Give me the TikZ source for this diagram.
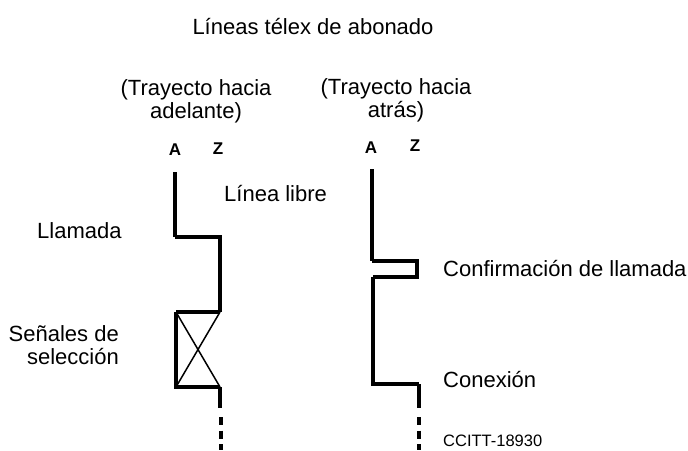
\documentclass[tikz,border=0pt]{standalone}
\usepackage{fontspec}
\setmainfont{Liberation Sans}
\tikzset{
  lab/.style={inner sep=0pt,font=\fontsize{22}{23}\selectfont,align=center},
  labl/.style={lab,anchor=west},
  small/.style={inner sep=0pt,font=\fontsize{17}{19}\selectfont\bfseries},
  tiny/.style={inner sep=0pt,anchor=base west,font=\fontsize{16.5}{18}\selectfont},
  heavy/.style={line width=4pt,line cap=butt,line join=miter},
  mid/.style={line width=3.2pt,line join=miter},
  thin1/.style={line width=1.5pt},
  dash1/.style={line width=3.6pt,dash pattern=on 8pt off 5.5pt}
}
\begin{document}
\begin{tikzpicture}[x=1pt,y=-1pt]
\useasboundingbox (0,0) rectangle (688,450);
\node[lab] (title) at (313,27) {Líneas télex de abonado};
\node[lab] (h1) at (196,101) {(Trayecto hacia\\adelante)};
\node[lab] (h2) at (396,100) {(Trayecto hacia\\atrás)};
\node[small] (a1) at (175,150) {A};
\node[small] (z1) at (218,149) {Z};
\node[small] (a2) at (371,148) {A};
\node[small] (z2) at (415,146) {Z};
\node[labl] (libre) at (224,194) {Línea libre};
\node[labl] (llam) at (37,231) {Llamada};
\node[lab,anchor=east,align=right] (sel) at (119,345) {Señales de\\selección};
\node[labl] (conf) at (443,269) {Confirmación de llamada};
\node[labl] (con) at (443,380) {Conexión};
\node[tiny] (ccitt) at (443,446) {CCITT-18930};
% left
\coordinate (p1) at (175,172);
\coordinate (p2) at (175,237);
\coordinate (p3) at (220,237);
\coordinate (p4) at (220,312);
\coordinate (p5) at (176,312);
\coordinate (p6) at (176,387);
\coordinate (p7) at (220,387);
\coordinate (p8) at (220,408);
\coordinate (p9) at (221,417);
\coordinate (p10) at (221,450);
\draw[heavy] (p1) -- (p2);
\draw[mid] (p2) -- (p3) -- (p4);
\draw[mid] (p4) -- (p5);
\draw[heavy] (p5) -- (p6) -- (p7);
\draw[heavy] (p7) -- (p8);
\draw[thin1] (p5) -- (p7) (p4) -- (p6);
\draw[dash1] (p9) -- (p10);
% right
\coordinate (q1) at (372,169);
\coordinate (q2) at (372,261);
\coordinate (q3) at (417,261);
\coordinate (q4) at (417,277);
\coordinate (q5) at (373,277);
\coordinate (q6) at (373,384);
\coordinate (q7) at (419,384);
\coordinate (q8) at (419,408);
\coordinate (q9) at (419,417);
\coordinate (q10) at (419,450);
\draw[mid] (q1) -- (q2);
\draw[heavy] (q2) -- (q3) -- (q4) -- (q5);
\draw[mid] (q5) -- (q6) -- (q7);
\draw[heavy] (q7) -- (q8);
\draw[dash1] (q9) -- (q10);
\end{tikzpicture}
\end{document}
